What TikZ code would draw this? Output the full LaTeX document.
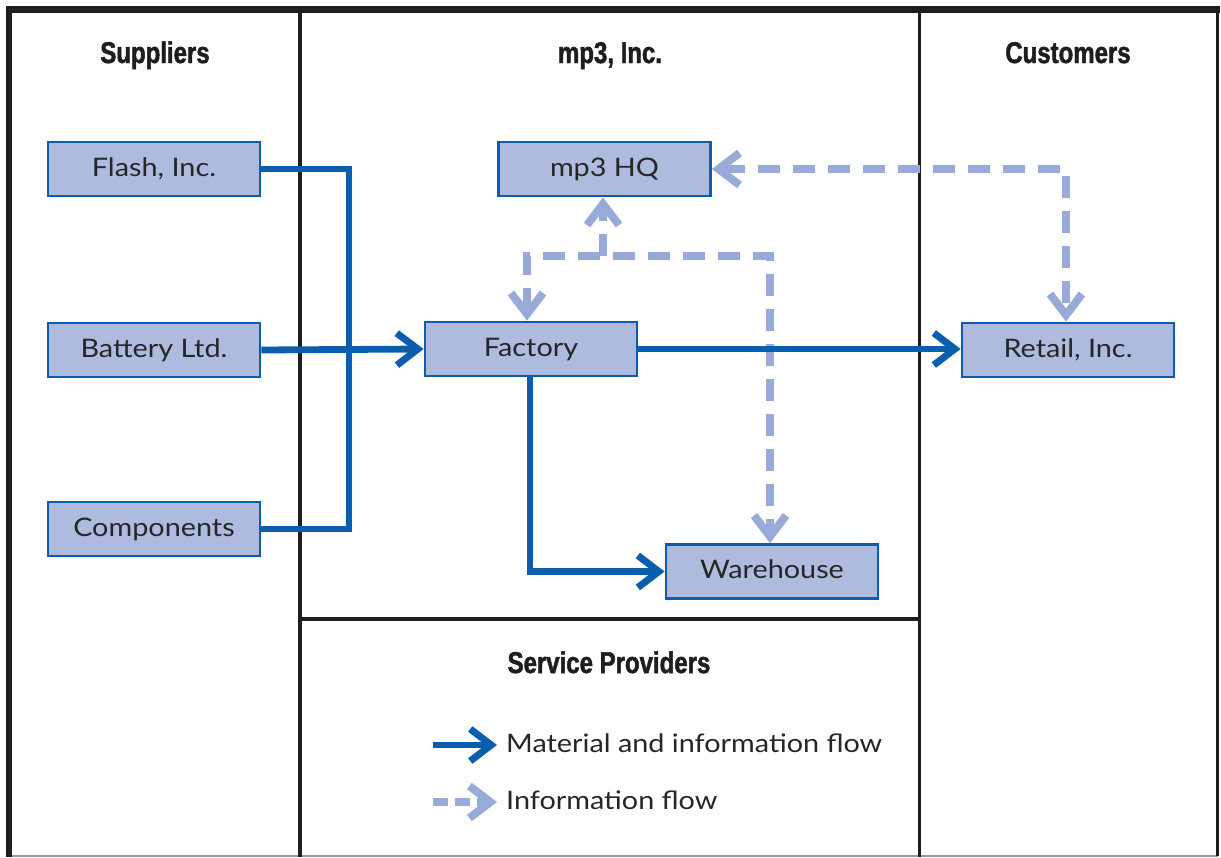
\documentclass[tikz,border=0pt]{standalone}
\usepackage{fontspec}
\setmainfont[FakeStretch=1.13]{Lato}
\newfontfamily\headfont[FakeStretch=0.8,FakeBold=1.6]{Liberation Sans Bold}
\usetikzlibrary{arrows.meta,calc}
\definecolor{boxfill}{HTML}{AEBBDF}
\definecolor{boxline}{HTML}{0A5EAD}
\definecolor{flowblue}{HTML}{0A5EAD}
\definecolor{infoblue}{HTML}{98AAD8}
\definecolor{txt}{HTML}{262626}
\definecolor{frame}{HTML}{1E1E1E}
\tikzset{
  box/.style={draw=boxline, line width=2.8pt, fill=boxfill, minimum width=212pt, minimum height=54pt,
    inner sep=0pt, text=txt, font=\fontsize{25.5}{29}\selectfont, text height=18pt, text depth=4pt},
  head/.style={anchor=base, text=frame, font=\headfont\fontsize{30}{34}\selectfont, inner sep=0pt},
  flow/.style={draw=flowblue, line width=6.8pt, line join=miter},
  info/.style={draw=infoblue, line width=8.5pt, dash pattern=on 22pt off 13pt},
  fhead/.style={-{Straight Barb[length=21pt,width=32pt,line width=7pt]}},
  ihead/.style={-{Straight Barb[length=21pt,width=32pt,line width=8pt]}},
  ihead2/.style={{Straight Barb[length=21pt,width=32pt,line width=8pt]}-{Straight Barb[length=21pt,width=32pt,line width=8pt]}},
  legtext/.style={anchor=west, text=txt, font=\fontsize{25.5}{29}\selectfont, inner sep=0pt, text height=18pt, text depth=4pt},
  divider/.style={draw=frame, line width=3.2pt}
}
\begin{document}
\begin{tikzpicture}[x=1pt,y=-1pt]
\useasboundingbox (0,0) rectangle (1221,857);
\fill[white] (0,0) rectangle (1221,857);

% frame
\draw[draw=gray!80, line width=2pt] (9,855.5) -- (1218,855.5);
\draw[draw=frame, line width=2.6pt] (1217.5,9) -- (1217.5,856);
\draw[draw=frame, line width=6.5pt] (9,857) -- (9,9.5) -- (1220,9.5);
\draw[divider] (300,9) -- (300,857);
\draw[divider] (919.5,9) -- (919.5,857);
\draw[divider] (300,619) -- (919.5,619);

% headings
\node[head] (hsup) at (155,63) {Suppliers};
\node[head] (hmp3) at (610,63) {mp3, Inc.};
\node[head] (hcus) at (1068,63) {Customers};
\node[head] (hsrv) at (609,673) {Service Providers};

% boxes
\node[box] (flash) at (154,169) {Flash, Inc.};
\node[box] (bat) at (154,350) {Battery Ltd.};
\node[box] (comp) at (154,529) {Components};
\node[box] (hq) at (604.5,169) {mp3 HQ};
\node[box] (fac) at (531,349) {Factory};
\node[box] (wh) at (772,571.5) {Warehouse};
\node[box] (ret) at (1068,350) {Retail, Inc.};

% helper coordinates
\coordinate (busx) at (349,0);
\coordinate (fx) at (530,0);
\coordinate (jl) at (527,256);
\coordinate (jr) at (770,256);
\coordinate (rx) at (1066,169);

% information flows (light, dashed)
\draw[info, ihead] ($(hq.south)+(-1.5,59)$) -- ($(hq.south)+(-1.5,0)$);
\draw[info, ihead2] (fac.north -| jl) |- (jr) -- (wh.north -| jr);
\draw[info, ihead2] (hq.east) -| (ret.north -| rx);

% material and information flows (dark)
\draw[flow] (flash.east) -| (busx |- comp.east) -- (comp.east);
\draw[flow, fhead] (bat.east) -- (fac.west);
\draw[flow, fhead] (fac.east) -- (ret.west |- fac.east);
\draw[flow, fhead] (fac.south -| fx) |- (wh.west);

% legend
\coordinate (l1a) at (433,745);
\coordinate (l1b) at (497,745);
\coordinate (l2a) at (433,802);
\coordinate (l2b) at (497,802);
\draw[flow, fhead] (l1a) -- (l1b);
\draw[info, ihead, dash pattern=on 15pt off 7pt] (l2a) -- (l2b);
\node[legtext] (lt1) at (506,745) {Material and information flow};
\node[legtext] (lt2) at (506,802) {Information flow};
\end{tikzpicture}
\end{document}
